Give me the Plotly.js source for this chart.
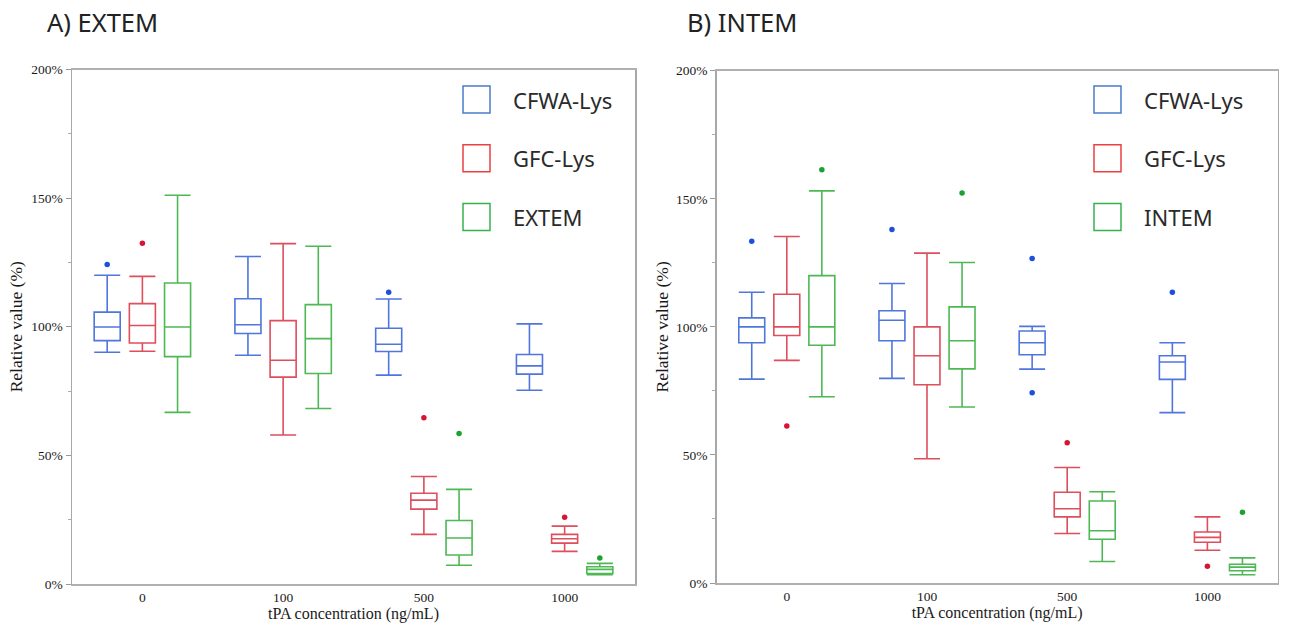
<!DOCTYPE html>
<html><head><meta charset="utf-8">
<script src="https://cdn.plot.ly/plotly-3.0.1.min.js"></script>
<style>html,body{margin:0;padding:0;background:#fff}</style>
</head><body><div id="chart" style="width:1290px;height:625px"></div>
<script>
// ---------- DATA ----------
const categories = ['0', '100', '500', '1000'];
const panelTitleA = 'A) EXTEM';
const panelTitleB = 'B) INTEM';
const seriesNamesA = ['CFWA-Lys', 'GFC-Lys', 'EXTEM'];
const seriesNamesB = ['CFWA-Lys', 'GFC-Lys', 'INTEM'];
const xTitle = 'tPA concentration (ng/mL)';
const yTitle = 'Relative value (%)';
const yTickVals = [0, 50, 100, 150, 200];
const yTickText = ['0%', '50%', '100%', '150%', '200%'];

// Panel A - CFWA-Lys
const aCfwaLower  = [90.1, 88.9, 81.2, 75.3];
const aCfwaQ1     = [94.6, 97.4, 90.4, 81.6];
const aCfwaMedian = [99.9, 100.8, 93.2, 84.8];
const aCfwaQ3     = [105.7, 110.9, 99.4, 89.2];
const aCfwaUpper  = [120.0, 127.3, 110.8, 101.1];
const aCfwaOutCat = [0, 2];
const aCfwaOutVal = [124.2, 113.4];
// Panel A - GFC-Lys
const aGfcLower  = [90.5, 57.9, 19.3, 12.7];
const aGfcQ1     = [93.7, 80.4, 29.1, 15.9];
const aGfcMedian = [100.5, 87.0, 32.6, 17.6];
const aGfcQ3     = [109.0, 102.4, 35.3, 19.3];
const aGfcUpper  = [119.6, 132.3, 41.8, 22.5];
const aGfcOutCat = [0, 2, 3];
const aGfcOutVal = [132.5, 64.6, 25.9];
// Panel A - EXTEM
const aExtLower  = [66.7, 68.2, 7.3, 3.6];
const aExtQ1     = [88.4, 81.8, 11.3, 4.1];
const aExtMedian = [99.9, 95.4, 17.9, 5.7];
const aExtQ3     = [117.0, 108.6, 24.7, 6.7];
const aExtUpper  = [151.1, 131.3, 36.8, 8.0];
const aExtOutCat = [2, 3];
const aExtOutVal = [58.5, 10.1];

// Panel B - CFWA-Lys
const bCfwaLower  = [79.6, 79.9, 83.5, 66.5];
const bCfwaQ1     = [93.8, 94.6, 89.1, 79.5];
const bCfwaMedian = [100.0, 102.6, 93.8, 86.3];
const bCfwaQ3     = [103.5, 106.3, 98.4, 88.7];
const bCfwaUpper  = [113.5, 116.9, 100.2, 93.8];
const bCfwaOutCat = [0, 1, 2, 2, 3];
const bCfwaOutVal = [133.4, 138.0, 126.7, 74.3, 113.5];
// Panel B - GFC-Lys
const bGfcLower  = [86.9, 48.5, 19.3, 12.8];
const bGfcQ1     = [96.6, 77.4, 25.8, 15.9];
const bGfcMedian = [100.0, 88.7, 29.0, 17.8];
const bGfcQ3     = [112.7, 100.0, 35.4, 19.9];
const bGfcUpper  = [135.3, 128.8, 45.1, 25.8];
const bGfcOutCat = [0, 2, 3];
const bGfcOutVal = [61.3, 54.8, 6.5];
// Panel B - INTEM
const bIntLower  = [72.7, 68.7, 8.4, 3.2];
const bIntQ1     = [92.8, 83.6, 17.1, 4.8];
const bIntMedian = [100.0, 94.6, 20.4, 6.2];
const bIntQ3     = [120.0, 107.8, 32.0, 7.3];
const bIntUpper  = [153.1, 125.1, 35.6, 9.8];
const bIntOutCat = [0, 1, 3];
const bIntOutVal = [161.3, 152.3, 27.6];

// ---------- STYLE ----------
const W = 1290, H = 625;
const boxColors = ['rgb(80,118,222)', 'rgb(222,78,92)', 'rgb(78,184,84)'];
const dotColors = ['rgb(30,78,222)', 'rgb(214,20,52)', 'rgb(28,162,48)'];
const legendColors = ['rgb(74,124,200)', 'rgb(234,64,66)', 'rgb(52,178,76)'];
const groupOffset = 0.25, boxWidth = 0.185;
const serif = 'Liberation Serif, Times New Roman, serif';
const sans = 'Noto Sans, Arial, sans-serif';

const panels = [
  {xa: 'x', ya: 'y', names: seriesNamesA, title: panelTitleA,
   series: [
     [aCfwaLower, aCfwaQ1, aCfwaMedian, aCfwaQ3, aCfwaUpper, aCfwaOutCat, aCfwaOutVal],
     [aGfcLower, aGfcQ1, aGfcMedian, aGfcQ3, aGfcUpper, aGfcOutCat, aGfcOutVal],
     [aExtLower, aExtQ1, aExtMedian, aExtQ3, aExtUpper, aExtOutCat, aExtOutVal]],
   px: [72, 635], py: [69.5, 584], titleX: 45, legX: 463, legTextX: 511},
  {xa: 'x2', ya: 'y2', names: seriesNamesB, title: panelTitleB,
   series: [
     [bCfwaLower, bCfwaQ1, bCfwaMedian, bCfwaQ3, bCfwaUpper, bCfwaOutCat, bCfwaOutVal],
     [bGfcLower, bGfcQ1, bGfcMedian, bGfcQ3, bGfcUpper, bGfcOutCat, bGfcOutVal],
     [bIntLower, bIntQ1, bIntMedian, bIntQ3, bIntUpper, bIntOutCat, bIntOutVal]],
   px: [716.7, 1277.5], py: [70.7, 583], titleX: 685, legX: 1094, legTextX: 1142}
];

const pxX = p => p / W;
const pxY = p => 1 - p / H;

const traces = [];
const shapes = [];
const annotations = [];
const layout = {
  width: W, height: H,
  margin: {l: 0, r: 0, t: 0, b: 0},
  paper_bgcolor: '#fff', plot_bgcolor: '#fff',
  showlegend: false,
  boxmode: 'overlay',
  shapes: shapes, annotations: annotations
};

panels.forEach((p, pi) => {
  p.series.forEach((s, si) => {
    const off = (si - 1) * groupOffset;
    traces.push({
      type: 'box', xaxis: p.xa, yaxis: p.ya, name: p.names[si],
      x: categories.map((c, i) => i + off),
      lowerfence: s[0], q1: s[1], median: s[2], q3: s[3], upperfence: s[4],
      width: boxWidth, whiskerwidth: 1, boxpoints: false,
      line: {color: boxColors[si], width: 1.6},
      fillcolor: 'rgba(255,255,255,0)', hoverinfo: 'skip'
    });
    traces.push({
      type: 'scatter', mode: 'markers', xaxis: p.xa, yaxis: p.ya, name: p.names[si],
      x: s[5].map(c => c + off), y: s[6],
      marker: {color: dotColors[si], size: 5.5}, hoverinfo: 'skip'
    });
    // legend square + text
    const top = 86 + si * 58.7;
    shapes.push({type: 'rect', xref: 'paper', yref: 'paper',
      x0: pxX(p.legX), x1: pxX(p.legX + 27), y0: pxY(top), y1: pxY(top + 27),
      line: {color: legendColors[si], width: 1.5}, fillcolor: 'rgba(0,0,0,0)'});
    annotations.push({xref: 'paper', yref: 'paper', x: pxX(p.legTextX), y: pxY(top + 13.5),
      xanchor: 'left', yanchor: 'middle', showarrow: false, text: p.names[si],
      font: {family: sans, size: 22, color: '#2a2a2a'}});
  });
  annotations.push({xref: 'paper', yref: 'paper', x: pxX(p.titleX), y: pxY(22),
    xanchor: 'left', yanchor: 'middle', showarrow: false, text: p.title,
    font: {family: sans, size: 25.5, color: '#222'}});

  const xKey = pi === 0 ? 'xaxis' : 'xaxis2';
  const yKey = pi === 0 ? 'yaxis' : 'yaxis2';
  layout[xKey] = {
    domain: [pxX(p.px[0]), pxX(p.px[1])], anchor: p.ya,
    range: [-0.5, 3.5], tickvals: categories.map((c, i) => i), ticktext: categories,
    showline: true, mirror: true, linecolor: '#b0b0b0', linewidth: 1.5,
    ticks: '', showgrid: false, zeroline: false,
    tickfont: {family: serif, size: 13.5, color: '#1a1a1a'},
    title: {text: xTitle, font: {family: serif, size: 16, color: '#1a1a1a'}, standoff: 2}
  };
  layout[yKey] = {
    domain: [pxY(p.py[1]), pxY(p.py[0])], anchor: p.xa,
    range: [0, 200], tickmode: 'array', tickvals: yTickVals, ticktext: yTickText,
    showline: true, mirror: true, linecolor: '#a8a8a8', linewidth: 1.5,
    ticks: 'outside', ticklen: 5, tickcolor: '#999', tickwidth: 1,
    minor: {dtick: 25, tick0: 0, ticks: 'outside', ticklen: 3, tickcolor: '#aaa', showgrid: false},
    showgrid: false, zeroline: false,
    tickfont: {family: serif, size: 13.5, color: '#1a1a1a'},
    title: {text: yTitle, font: {family: serif, size: 17.5, color: '#1a1a1a'}, standoff: pi === 0 ? 4 : 3}
  };
});

Plotly.newPlot('chart', traces, layout, {displayModeBar: false, staticPlot: true});
</script>
</body></html>
